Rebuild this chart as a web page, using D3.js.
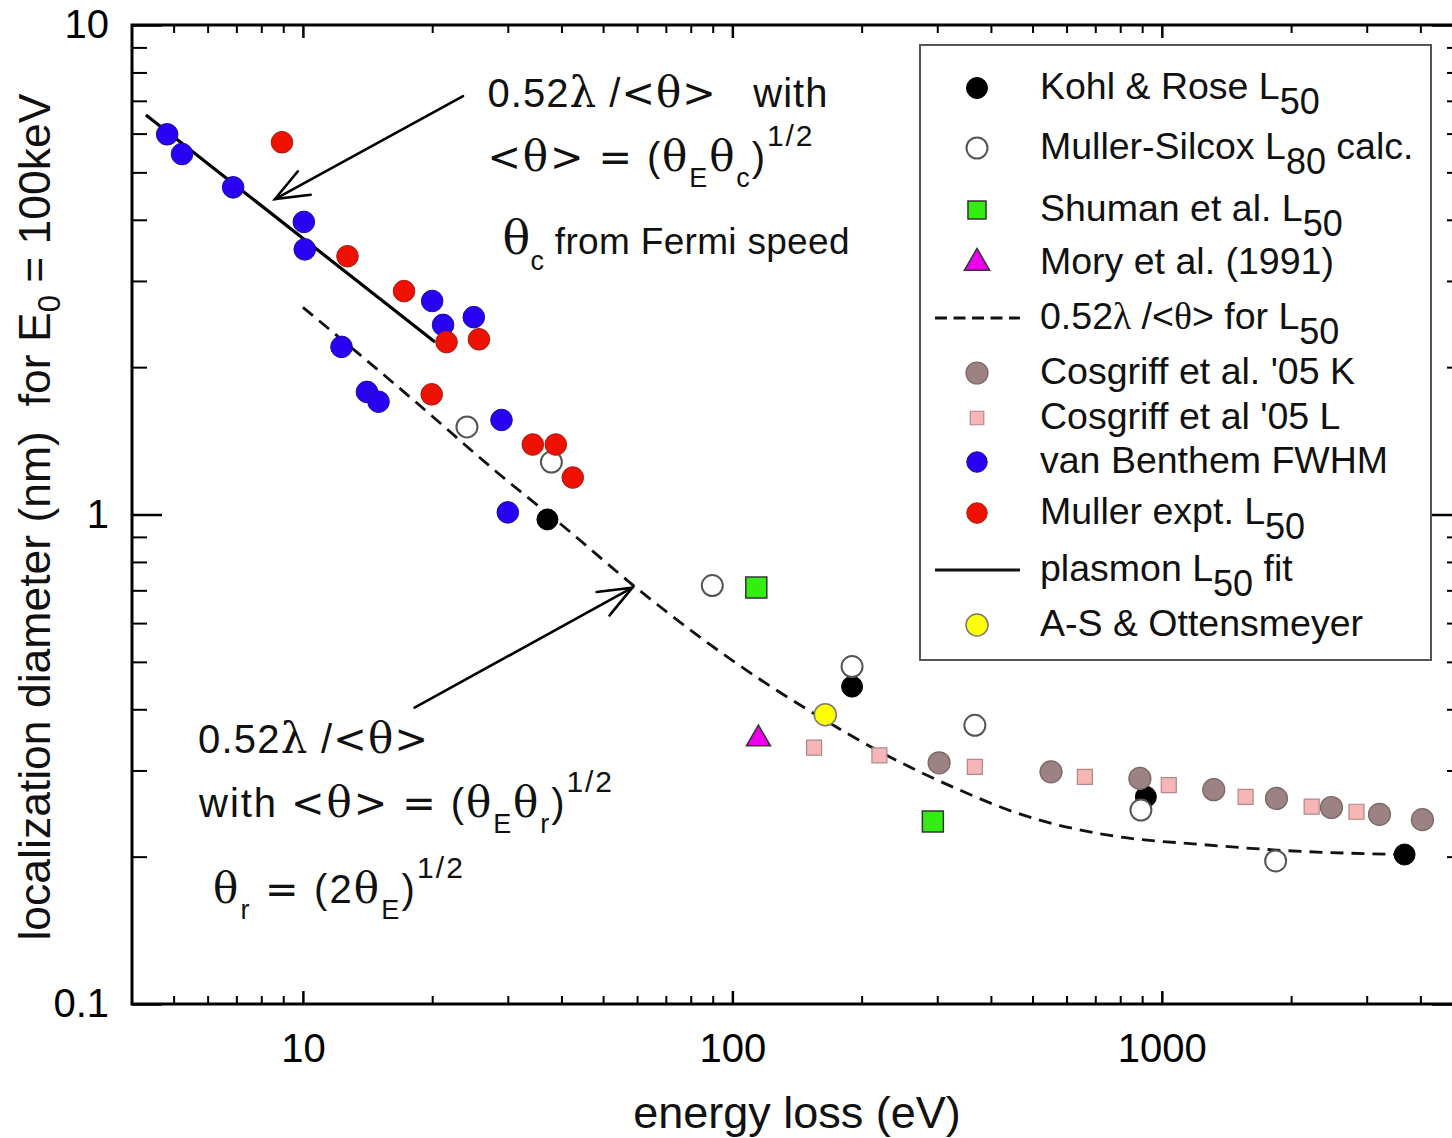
<!DOCTYPE html>
<html>
<head>
<meta charset="utf-8">
<script src="https://cdn.jsdelivr.net/npm/d3@7"></script>
<style>
  html, body { margin: 0; padding: 0; background: #fff; }
  svg text { white-space: pre; }
</style>
</head>
<body>
<svg id="chart" width="1452" height="1138"></svg>
<script>
// ---- data: [energy loss (eV), localization diameter (nm)] ----
const kohlRose      = [[37.1, 0.977], [190, 0.445], [918, 0.265], [3675, 0.202]];
const mullerSilcox  = [[24.1, 1.51], [37.9, 1.28], [89.8, 0.716], [190, 0.489], [367, 0.371], [894, 0.249], [1841, 0.196]];
const shuman        = [[113.7, 0.709], [293, 0.236]];
const mory          = [[115, 0.348]];
const cosgriffL     = [[155, 0.334], [220, 0.322], [367, 0.305], [662, 0.291], [1038, 0.280], [1567, 0.265], [2233, 0.253], [2840, 0.247]];
const cosgriffK     = [[303, 0.311], [552, 0.298], [889, 0.289], [1321, 0.274], [1849, 0.263], [2483, 0.252], [3212, 0.244], [4044, 0.238]];
const vanBenthem    = [[4.83, 5.98], [5.23, 5.45], [6.88, 4.66], [10.05, 3.96], [10.1, 3.48], [20.0, 2.73], [21.2, 2.44], [25.0, 2.53],
                       [12.3, 2.20], [14.1, 1.78], [15.0, 1.70], [29.0, 1.56], [30.0, 1.01]];
const mullerExpt    = [[8.94, 5.76], [12.7, 3.37], [17.2, 2.86], [21.6, 2.25], [25.7, 2.28], [19.95, 1.76], [34.3, 1.39], [38.8, 1.39], [42.5, 1.19]];
const asOttensmeyer = [[164.6, 0.390]];
const plasmonFit    = [[4.31, 6.55], [20.3, 2.25]];
const thetaModel    = [[10, 2.65], [18.0, 1.72], [28.3, 1.22], [41.8, 0.923], [58.5, 0.719], [124, 0.443], [153.5, 0.394],
                       [220, 0.328], [337, 0.274], [457, 0.246], [781, 0.220], [1219, 0.212], [1901, 0.206], [3675, 0.202]];

// ---- ticks ----
const xMajor = [10, 100, 1000];
const xMinor = [5, 6, 7, 8, 9, 20, 30, 40, 50, 60, 70, 80, 90, 200, 300, 400, 500, 600, 700, 800, 900, 2000, 3000, 4000];
const yMajor = [0.1, 1, 10];
const yMajorLabels = ["0.1", "1", "10"];
const yMinor = [0.2, 0.3, 0.4, 0.5, 0.6, 0.7, 0.8, 0.9, 2, 3, 4, 5, 6, 7, 8, 9];

// ---- legend text ----
const legendLabels = [
  "Kohl & Rose L_{50}",
  "Muller-Silcox L_{80} calc.",
  "Shuman et al. L_{50}",
  "Mory et al. (1991)",
  "0.52λ /<θ> for L_{50}",
  "Cosgriff et al. '05 K",
  "Cosgriff et al '05 L",
  "van Benthem FWHM",
  "Muller expt. L_{50}",
  "plasmon L_{50} fit",
  "A-S & Ottensmeyer"
];

const SANS = "'Liberation Sans', Arial, Helvetica, sans-serif";
const SERIF = "'Liberation Serif', 'Times New Roman', serif";
const GREEK_WIDE = "'DejaVu Serif', 'Liberation Serif', serif";
const SYMBOL_WIDE = "'DejaVu Sans', 'Liberation Sans', sans-serif";

const svg = d3.select("#chart");
const x = d3.scaleLog().domain([4, 5000]).range([132, 1462]);
const y = d3.scaleLog().domain([0.1, 10]).range([1004, 25]);

// Text with _{sub} / ^{sup} markup; Greek letters (and optionally < > =) in their own faces.
function richText(textSel, str, o) {
  let off = 0;
  const splitter = o.wide ? /([θλ<>=])/ : /([θλ])/;
  const parts = str.split(/(_\{[^}]*\}|\^\{[^}]*\})/).filter(s => s.length);
  parts.forEach(p => {
    let target = 0, size = o.size, content = p;
    if (p.startsWith("_{")) { target = o.subDy; size = o.subSize; content = p.slice(2, -1); }
    else if (p.startsWith("^{")) { target = -o.supDy; size = o.supSize; content = p.slice(2, -1); }
    const chunks = content.split(splitter).filter(s => s.length);
    chunks.forEach((c, i) => {
      const isGreek = /^[θλ]$/.test(c);
      const isSym = /^[<>=]$/.test(c) && o.wide;
      let fs = size;
      if (isGreek && target === 0) fs = o.greekSize || (o.wide ? size * 1.05 : size);
      const t = textSel.append("tspan").text(c).attr("font-size", fs);
      if (i === 0) { t.attr("dy", target - off); off = target; }
      if (isGreek) t.attr("font-family", o.wide ? GREEK_WIDE : SERIF);
      if (isSym) t.attr("font-family", SYMBOL_WIDE);
    });
  });
  return textSel;
}

// ---- axes ----
function styleAxis(g, width) {
  g.select(".domain").remove();
  g.selectAll(".tick line").attr("stroke", "#000").attr("stroke-width", width);
}
const axisFont = g => g.attr("font-family", SANS).attr("font-size", 40).attr("fill", "#000");

svg.append("g").attr("transform", "translate(0,1004)")
  .call(d3.axisBottom(x).tickValues(xMinor).tickSizeInner(-8).tickSizeOuter(0).tickFormat(""))
  .call(g => styleAxis(g, 2));
svg.append("g").attr("transform", "translate(0,1004)")
  .call(d3.axisBottom(x).tickValues(xMajor).tickSizeInner(-13).tickSizeOuter(0).tickFormat(d3.format("d")))
  .call(g => styleAxis(g, 2.5))
  .call(axisFont)
  .call(g => g.selectAll("text").attr("y", 58).attr("dy", 0).attr("fill", "#000"));

svg.append("g").attr("transform", "translate(0,25)")
  .call(d3.axisTop(x).tickValues(xMinor).tickSizeInner(-8).tickSizeOuter(0).tickFormat(""))
  .call(g => styleAxis(g, 2));
svg.append("g").attr("transform", "translate(0,25)")
  .call(d3.axisTop(x).tickValues(xMajor).tickSizeInner(-13).tickSizeOuter(0).tickFormat(""))
  .call(g => styleAxis(g, 2.5));

svg.append("g").attr("transform", "translate(132,0)")
  .call(d3.axisLeft(y).tickValues(yMinor).tickSizeInner(-15).tickSizeOuter(0).tickFormat(""))
  .call(g => styleAxis(g, 2));
svg.append("g").attr("transform", "translate(132,0)")
  .call(d3.axisLeft(y).tickValues(yMajor).tickSizeInner(-30).tickSizeOuter(0).tickPadding(23)
        .tickFormat((d, i) => yMajorLabels[i]))
  .call(g => styleAxis(g, 2.5))
  .call(axisFont)
  .call(g => g.selectAll("text").attr("fill", "#000"));

svg.append("g").attr("transform", "translate(1462,0)")
  .call(d3.axisRight(y).tickValues(yMinor).tickSizeInner(-15).tickSizeOuter(0).tickFormat(""))
  .call(g => styleAxis(g, 2));
svg.append("g").attr("transform", "translate(1462,0)")
  .call(d3.axisRight(y).tickValues(yMajor).tickSizeInner(-30).tickSizeOuter(0).tickFormat(""))
  .call(g => styleAxis(g, 2.5));

// frame
svg.append("rect")
  .attr("x", x.range()[0]).attr("y", y.range()[1])
  .attr("width", x.range()[1] - x.range()[0]).attr("height", y.range()[0] - y.range()[1])
  .attr("fill", "none").attr("stroke", "#000").attr("stroke-width", 3);

// axis titles
svg.append("text")
  .attr("x", 797).attr("y", 1128).attr("text-anchor", "middle")
  .attr("font-family", SANS).attr("font-size", 45).attr("fill", "#111")
  .text("energy loss (eV)");
richText(
  svg.append("text")
    .attr("transform", "translate(50,517) rotate(-90)")
    .attr("text-anchor", "middle")
    .attr("font-family", SANS).attr("fill", "#111"),
  "localization diameter (nm)  for E_{0} = 100keV",
  { size: 44.5, subSize: 31, subDy: 10 }
);

// ---- model curves ----
svg.append("path").datum(thetaModel)
  .attr("d", d3.line().x(d => x(d[0])).y(d => y(d[1])).curve(d3.curveMonotoneX))
  .attr("fill", "none").attr("stroke", "#111").attr("stroke-width", 2.8)
  .attr("stroke-dasharray", "13,8");
svg.append("path").datum(plasmonFit)
  .attr("d", d3.line().x(d => x(d[0])).y(d => y(d[1])))
  .attr("fill", "none").attr("stroke", "#000").attr("stroke-width", 3.2);

// ---- annotations: arrows + formula text ----
const arrows = [
  { from: [23.6, 7.16], to: [8.61, 4.41] },
  { from: [18.2, 0.403], to: [58.5, 0.709] }
];
arrows.forEach(a => {
  const x0 = x(a.from[0]), y0 = y(a.from[1]), x1 = x(a.to[0]), y1 = y(a.to[1]);
  const ang = Math.atan2(y0 - y1, x0 - x1), L = 36, spread = 0.38;
  const g = svg.append("g").attr("stroke", "#000").attr("stroke-width", 2.6).attr("fill", "none")
    .attr("stroke-linecap", "round");
  g.append("line").attr("x1", x0).attr("y1", y0).attr("x2", x1).attr("y2", y1);
  g.append("path").attr("d",
    `M${x1 + L * Math.cos(ang + spread)},${y1 + L * Math.sin(ang + spread)}L${x1},${y1}` +
    `L${x1 + L * Math.cos(ang - spread)},${y1 + L * Math.sin(ang - spread)}`);
});

const annotations = [
  { at: [26.9, 6.80], lines: [
      { dx: 0,  dy: 0,   w: 340, s: "0.52λ /<θ>   with" },
      { dx: 0,  dy: 64,  w: 325, s: "<θ> = (θ_{E}θ_{c})^{1/2}" },
      { dx: 15, dy: 147, w: 347, s: "θ_{c} from Fermi speed", size: 37, greekSize: 46 } ] },
  { at: [5.70, 0.326], lines: [
      { dx: 0,  dy: 0,   w: 230, s: "0.52λ /<θ>" },
      { dx: 1,  dy: 64,  w: 413, s: "with <θ> = (θ_{E}θ_{r})^{1/2}" },
      { dx: 15, dy: 150, w: 250, s: "θ_{r} = (2θ_{E})^{1/2}" } ] }
];
annotations.forEach(a => {
  a.lines.forEach(l => {
    const t = svg.append("text")
      .attr("x", x(a.at[0]) + l.dx).attr("y", y(a.at[1]) + l.dy)
      .attr("font-family", SANS).attr("fill", "#111");
    richText(t, l.s, { size: l.size || 40, subSize: 27, subDy: 16, supSize: 30, supDy: 25,
                       greekSize: l.greekSize, wide: true });
    t.attr("textLength", l.w).attr("lengthAdjust", "spacing");
  });
});

// ---- scatter series ----
const series = [
  { data: kohlRose,      shape: "circle",   r: 10.5, fill: "#000",    stroke: "#000",    sw: 1 },
  { data: mullerSilcox,  shape: "circle",   r: 10.5, fill: "#fff",    stroke: "#555",    sw: 2 },
  { data: shuman,        shape: "square",   r: 21,   fill: "#33ee11", stroke: "#333",    sw: 1.5 },
  { data: mory,          shape: "triangle", r: 250,  fill: "#ee00ee", stroke: "#333",    sw: 1.5 },
  { data: cosgriffL,     shape: "square",   r: 15,   fill: "#f7b6b6", stroke: "#b08888", sw: 1.2 },
  { data: cosgriffK,     shape: "circle",   r: 11,   fill: "#9c8282", stroke: "#7a6565", sw: 1.2 },
  { data: vanBenthem,    shape: "circle",   r: 10.8, fill: "#2a00f2", stroke: "#1c0f9a", sw: 1 },
  { data: mullerExpt,    shape: "circle",   r: 10.8, fill: "#ee1100", stroke: "#a0201a", sw: 1 },
  { data: asOttensmeyer, shape: "circle",   r: 11,   fill: "#ffff00", stroke: "#777",    sw: 1.5 }
];

function marker(g, s, cx, cy, scale = 1) {
  if (s.shape === "circle") {
    return g.append("circle").attr("cx", cx).attr("cy", cy).attr("r", s.r * scale)
      .attr("fill", s.fill).attr("stroke", s.stroke).attr("stroke-width", s.sw);
  }
  const size = s.shape === "square" ? (s.r * scale) ** 2 : s.r * scale * scale;
  return g.append("path")
    .attr("d", d3.symbol(s.shape === "square" ? d3.symbolSquare : d3.symbolTriangle, size)())
    .attr("transform", `translate(${cx},${cy})`)
    .attr("fill", s.fill).attr("stroke", s.stroke).attr("stroke-width", s.sw);
}

series.forEach(s => {
  const g = svg.append("g");
  s.data.forEach(d => marker(g, s, x(d[0]), y(d[1])));
});

// ---- legend ----
const legendBox = { x: 920, y: 45, w: 511, h: 615 };
const legendRows = [88, 148, 210, 263, 318, 373, 418, 462, 513, 570, 625];
const legendKeys = [
  { ser: 0 }, { ser: 1 }, { ser: 2, scale: 0.86 }, { ser: 3, scale: 1.05 },
  { line: "dash" }, { ser: 5 }, { ser: 4, scale: 0.9 }, { ser: 6, scale: 0.95 },
  { ser: 7, scale: 0.95 }, { line: "solid" }, { ser: 8 }
];
const lg = svg.append("g");
lg.append("rect").attr("x", legendBox.x).attr("y", legendBox.y)
  .attr("width", legendBox.w).attr("height", legendBox.h)
  .attr("fill", "#fff").attr("stroke", "#555").attr("stroke-width", 2);

legendKeys.forEach((k, i) => {
  const ry = legendRows[i];
  if (k.line) {
    lg.append("line").attr("x1", 935).attr("x2", 1020).attr("y1", ry).attr("y2", ry)
      .attr("stroke", "#111").attr("stroke-width", k.line === "dash" ? 2.8 : 3)
      .attr("stroke-dasharray", k.line === "dash" ? "12,6.5" : null);
  } else {
    marker(lg, series[k.ser], 977, ry, k.scale || 1);
  }
  const t = lg.append("text").attr("x", 1040).attr("y", ry + 11)
    .attr("font-family", SANS).attr("fill", "#111");
  richText(t, legendLabels[i], { size: 37.5, subSize: 36, subDy: 15, supSize: 36, supDy: 15 });
});
</script>
</body>
</html>
